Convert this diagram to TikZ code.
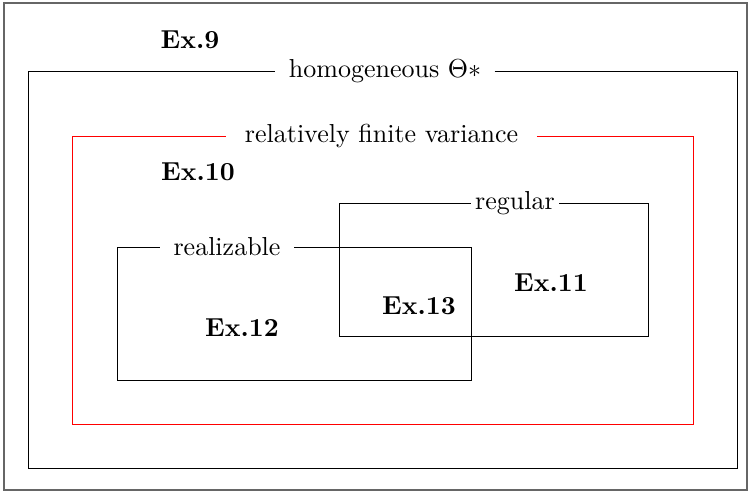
\documentclass[tikz,border=0pt]{standalone}
\usetikzlibrary{calc}
\begin{document}
\begin{tikzpicture}[x=0.3846pt,y=-0.3846pt,
  frame/.style={line width=0.3pt},
  lbl/.style={fill=white,inner ysep=1pt,font=\normalsize},
  ex/.style={font=\bfseries\normalsize,inner sep=0pt}]
\useasboundingbox (0,0) rectangle (751,493);
% outer border
\draw[black!60,line width=0.4pt] (4,3) rectangle (747,490);
% homogeneous
\node[lbl,inner xsep=5pt] (hom) at (385,71) {homogeneous $\Theta{*}$};
\coordinate (homBR) at (737,468);
\coordinate (homBL) at (28,468);
\draw[frame] (hom.east) -- (737,71) -- (homBR) -- (homBL) -- (28,71) -- (hom.west);
% relatively finite variance
\node[lbl,inner xsep=7pt] (rel) at (381.5,136) {relatively finite variance};
\coordinate (relBR) at (693,424);
\coordinate (relBL) at (72,424);
\draw[frame,red] (rel.east) -- (693,136) -- (relBR) -- (relBL) -- (72,136) -- (rel.west);
% regular
\node[lbl,inner xsep=1.5pt] (reg) at (515,203) {regular};
\coordinate (regBR) at (648,336);
\coordinate (regBL) at (339,336);
\draw[frame] (reg.east) -- (648,203) -- (regBR) -- (regBL) -- (339,203) -- (reg.west);
% realizable
\coordinate (reaBR) at (471,380);
\coordinate (reaBL) at (117,380);
\node[inner xsep=5pt,inner ysep=1pt] (rea) at (227,247) {realizable};
\draw[frame] (rea.east) -- (471,247) -- (reaBR) -- (reaBL) -- (117,247) -- (rea.west);
% examples
\node[ex] (e9) at (190,40) {Ex.9};
\node[ex] (e10) at (198,172) {Ex.10};
\node[ex] (e11) at (551,283) {Ex.11};
\node[ex] (e12) at (242,328) {Ex.12};
\node[ex] (e13) at (419,306) {Ex.13};
\end{tikzpicture}
\end{document}
